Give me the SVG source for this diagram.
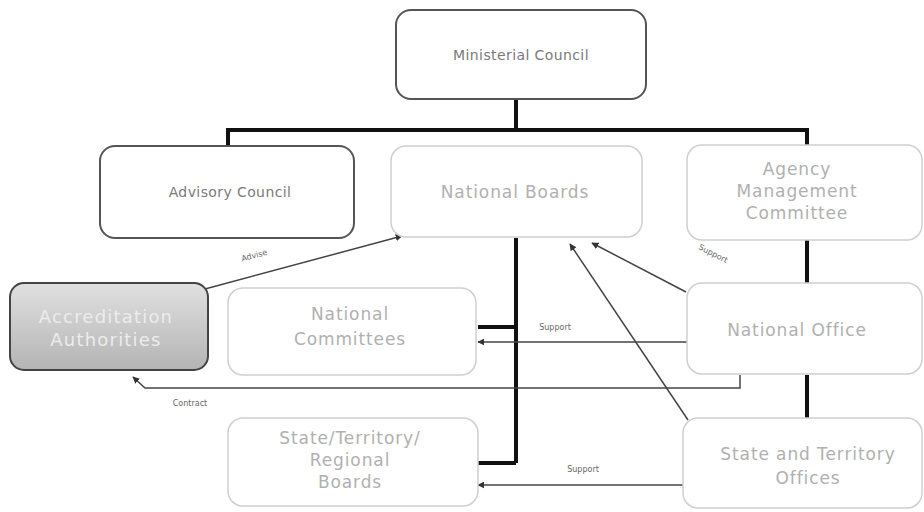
<svg xmlns="http://www.w3.org/2000/svg" width="924" height="512" viewBox="0 0 924 512">
<defs>
<marker id="arr" viewBox="0 0 10 10" refX="9" refY="5" markerWidth="7" markerHeight="7" orient="auto-start-reverse" markerUnits="userSpaceOnUse">
<path d="M0,0 L10,5 L0,10 z" fill="#333"/>
</marker>
<linearGradient id="acc" x1="0" y1="0" x2="0" y2="1">
<stop offset="0" stop-color="#e0e0e0"/>
<stop offset="1" stop-color="#b4b4b4"/>
</linearGradient>
</defs>
<style>
text{font-family:"DejaVu Sans","Liberation Sans",sans-serif;text-anchor:middle;}
.dark{fill:#fff;stroke:#555;stroke-width:2;}
.light{fill:#fff;stroke:#cfcfcf;stroke-width:1.5;}
.t1{fill:#7a7a7a;font-size:14px;letter-spacing:0.4px;}
.t2{fill:#b0b0b0;font-size:17px;letter-spacing:0.9px;}
.thick{stroke:#111;stroke-width:4;fill:none;}
.thin{stroke:#444;stroke-width:1.5;fill:none;}
.lbl{fill:#666;font-size:8px;}
</style>
<rect width="924" height="512" fill="#fff"/>
<g id="connectors">
<polyline class="thick" points="516,99 516,130"/>
<polyline class="thick" points="228,146 228,130 807,130 807,145"/>
<polyline class="thick" points="516,238 516,463"/>
<polyline class="thick" points="478,327 516,327"/>
<polyline class="thick" points="478,463 516,463"/>
<polyline class="thick" points="807,240 807,283"/>
<polyline class="thick" points="807,375 807,418"/>
<line class="thin" x1="205" y1="289" x2="402" y2="236" marker-end="url(#arr)"/>
<text class="lbl" x="255" y="258" transform="rotate(-15 255 258)">Advise</text>
<line class="thin" x1="686" y1="292" x2="592" y2="243" marker-end="url(#arr)"/>
<text class="lbl" x="712" y="256" transform="rotate(27 712 256)">Support</text>
<line class="thin" x1="688" y1="420" x2="570" y2="244" marker-end="url(#arr)"/>
<line class="thin" x1="687" y1="342" x2="478" y2="342" marker-end="url(#arr)"/>
<text class="lbl" x="555" y="330">Support</text>
<line class="thin" x1="683" y1="485" x2="478" y2="485" marker-end="url(#arr)"/>
<text class="lbl" x="583" y="472">Support</text>
<polyline class="thin" points="740,375 740,388 145,388 133,377" marker-end="url(#arr)"/>
<text class="lbl" x="190" y="406">Contract</text>
</g>
<g id="ministerial-council">
<rect class="dark" x="396" y="10" width="250" height="89" rx="15"/>
<text class="t1" x="521" y="60">Ministerial Council</text>
</g>
<g id="advisory-council">
<rect class="dark" x="100" y="146" width="254" height="92" rx="15"/>
<text class="t1" x="230" y="197">Advisory Council</text>
</g>
<g id="national-boards">
<rect class="light" x="391" y="146" width="251" height="91" rx="15"/>
<text class="t2" x="515" y="198">National Boards</text>
</g>
<g id="agency-management-committee">
<rect class="light" x="687" y="145" width="235" height="95" rx="15"/>
<text class="t2" x="797" y="175">Agency</text>
<text class="t2" x="797" y="197">Management</text>
<text class="t2" x="797" y="219">Committee</text>
</g>
<g id="accreditation-authorities">
<rect x="10" y="283" width="198" height="87" rx="14" fill="url(#acc)" stroke="#444" stroke-width="2"/>
<text x="106" y="323" style="fill:#ececec;font-size:18px;letter-spacing:1.2px">Accreditation</text>
<text x="106" y="346" style="fill:#ececec;font-size:18px;letter-spacing:1.2px">Authorities</text>
</g>
<g id="national-committees">
<rect class="light" x="228" y="288" width="248" height="87" rx="15"/>
<text class="t2" x="350" y="320">National</text>
<text class="t2" x="350" y="345">Committees</text>
</g>
<g id="national-office">
<rect class="light" x="687" y="283" width="235" height="91" rx="15"/>
<text class="t2" x="797" y="336">National Office</text>
</g>
<g id="state-territory-regional-boards">
<rect class="light" x="228" y="418" width="250" height="88" rx="15"/>
<text class="t2" x="350" y="444">State/Territory/</text>
<text class="t2" x="350" y="466">Regional</text>
<text class="t2" x="350" y="488">Boards</text>
</g>
<g id="state-territory-offices">
<rect class="light" x="683" y="418" width="239" height="90" rx="15"/>
<text class="t2" x="808" y="460">State and Territory</text>
<text class="t2" x="808" y="484">Offices</text>
</g>
</svg>
